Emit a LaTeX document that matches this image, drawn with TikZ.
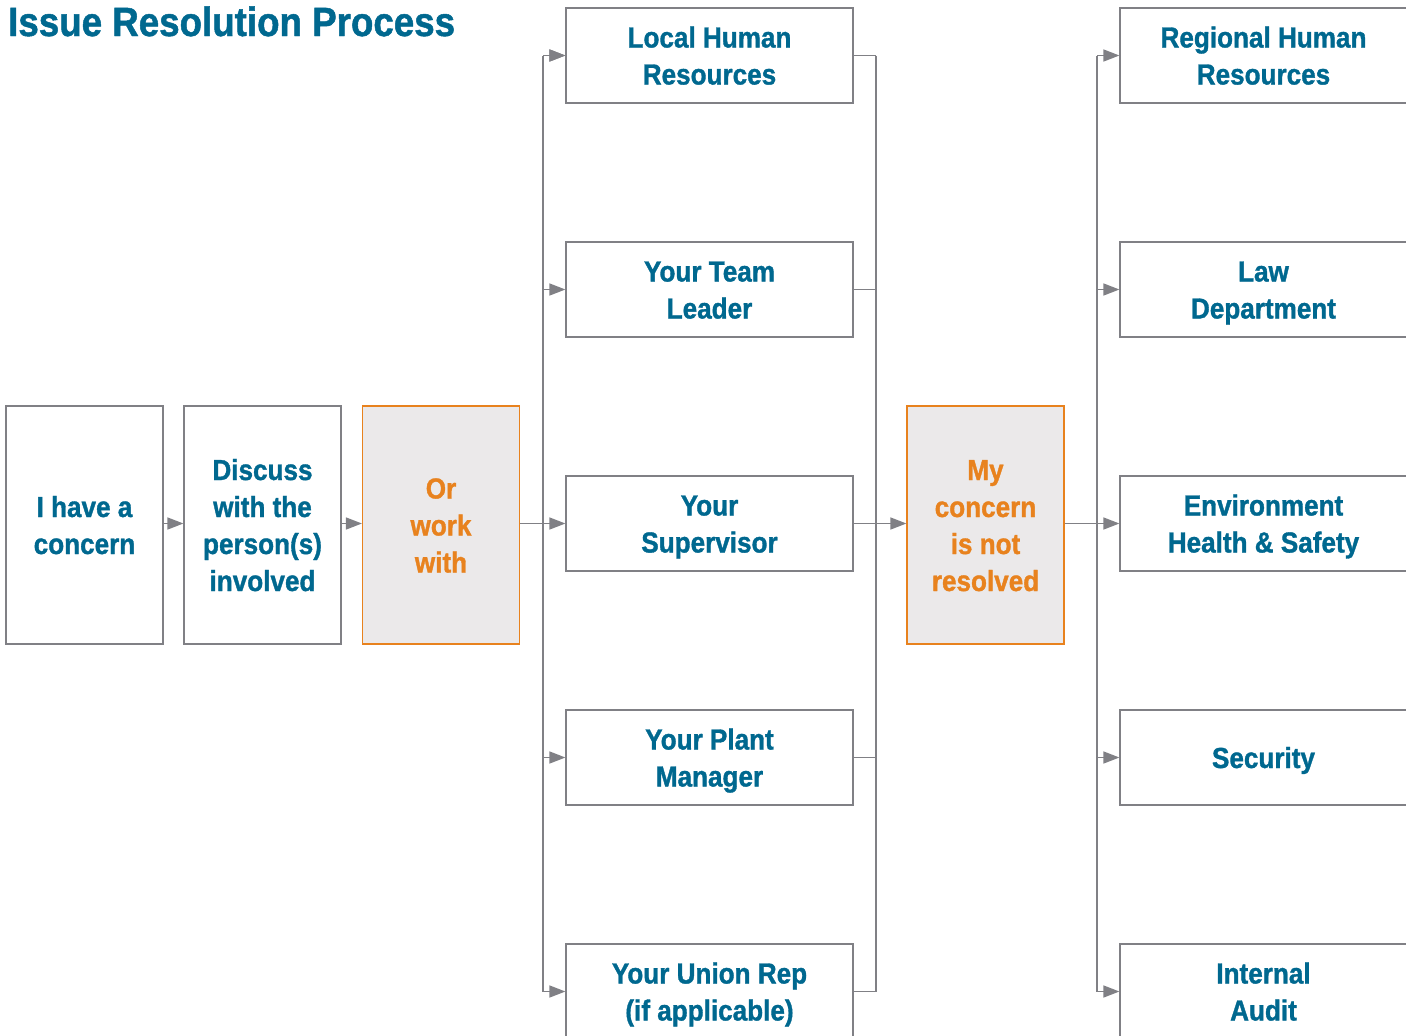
\documentclass[tikz,border=0pt]{standalone}
\usepackage{fontspec}
\setmainfont{Liberation Sans}[FakeStretch=0.9, BoldFeatures={FakeStretch=0.9, FakeBold=1.2}]
\usetikzlibrary{arrows.meta}
\definecolor{myblue}{RGB}{0,104,143}
\definecolor{myorange}{RGB}{232,130,30}
\definecolor{hlfill}{RGB}{235,233,234}
\definecolor{boxgray}{RGB}{128,128,133}
\definecolor{linegray}{RGB}{128,128,133}
\tikzset{
  box/.style={draw=boxgray, line width=1.2pt, minimum width=287pt, minimum height=95pt, inner sep=0pt, align=center, text=myblue, text depth=0pt, font=\bfseries\fontsize{29}{37}\selectfont},
  tall/.style={box, minimum width=157pt, minimum height=238pt},
  hl/.style={tall, draw=myorange, fill=hlfill, text=myorange},
  rowsone/.style={text height=21pt},
  rowstwo/.style={text height=58pt},
  rowsthree/.style={text height=95pt},
  rowsfour/.style={text height=132pt},
  conn/.style={draw=linegray, line width=1.5pt},
  arr/.style={conn, -{Triangle[length=16pt,width=12pt]}},
  titlestyle/.style={anchor=base west, inner sep=0pt, text=myblue, font=\bfseries\fontsize{40.8}{44}\selectfont}
}
\begin{document}
\begin{tikzpicture}[x=1pt,y=-1pt]
\useasboundingbox (0,0) rectangle (1406,1036);
\clip (0,0) rectangle (1406,1036);
\node[titlestyle] (title) at (8,36) {Issue Resolution Process};
% left column
\node[tall, rowstwo] (concern) at (84.5,525) {I have a\\concern};
\node[tall, rowsfour] (discuss) at (262.5,525) {Discuss\\with the\\person(s)\\involved};
\node[hl, rowsthree] (orwork) at (441,525) {Or\\work\\with};
% middle column
\node[box, rowstwo] (m1) at (709.5,55.5) {Local Human\\Resources};
\node[box, rowstwo] (m2) at (709.5,289.5) {Your Team\\Leader};
\node[box, rowstwo] (m3) at (709.5,523.5) {Your\\Supervisor};
\node[box, rowstwo] (m4) at (709.5,757.5) {Your Plant\\Manager};
\node[box, rowstwo] (m5) at (709.5,991.5) {Your Union Rep\\(if applicable)};
\node[hl, rowsfour] (notres) at (985.5,525) {My\\concern\\is not\\resolved};
% right column
\node[box, rowstwo] (r1) at (1263.5,55.5) {Regional Human\\Resources};
\node[box, rowstwo] (r2) at (1263.5,289.5) {Law\\Department};
\node[box, rowstwo] (r3) at (1263.5,523.5) {Environment\\Health \& Safety};
\node[box, rowsone] (r4) at (1263.5,757.5) {Security};
\node[box, rowstwo] (r5) at (1263.5,991.5) {Internal\\Audit};
% bus coordinates
\coordinate (b1top) at (543,55.5);
\coordinate (b1bot) at (543,991.5);
\coordinate (b2top) at (876,55.5);
\coordinate (b2bot) at (876,991.5);
\coordinate (b3top) at (1097,55.5);
\coordinate (b3bot) at (1097,991.5);
% connectors
\draw[arr] (concern.east |- 0,523.5) -- (discuss.west |- 0,523.5);
\draw[arr] (discuss.east |- 0,523.5) -- (orwork.west |- 0,523.5);
\draw[conn] (b1top) -- (b1bot);
\draw[arr] (orwork.east |- m3.west) -- (m3.west);
\foreach \m in {m1,m2,m4} \draw[arr] (b1top |- \m.west) -- (\m.west);
\draw[arr] (b1bot) -- (m5.west);
\draw[arr] (b1top) -- (m1.west);
\draw[conn] (b2top) -- (b2bot);
\foreach \m in {m1,m2,m4,m5} \draw[conn] (\m.east) -- (b2top |- \m.east);
\draw[arr] (m3.east) -- (notres.west |- m3.east);
\draw[conn] (b3top) -- (b3bot);
\draw[conn] (notres.east |- r3.west) -- (b3top |- r3.west);
\foreach \r in {r1,r2,r3,r4,r5} \draw[arr] (b3top |- \r.west) -- (\r.west);
\end{tikzpicture}
\end{document}
